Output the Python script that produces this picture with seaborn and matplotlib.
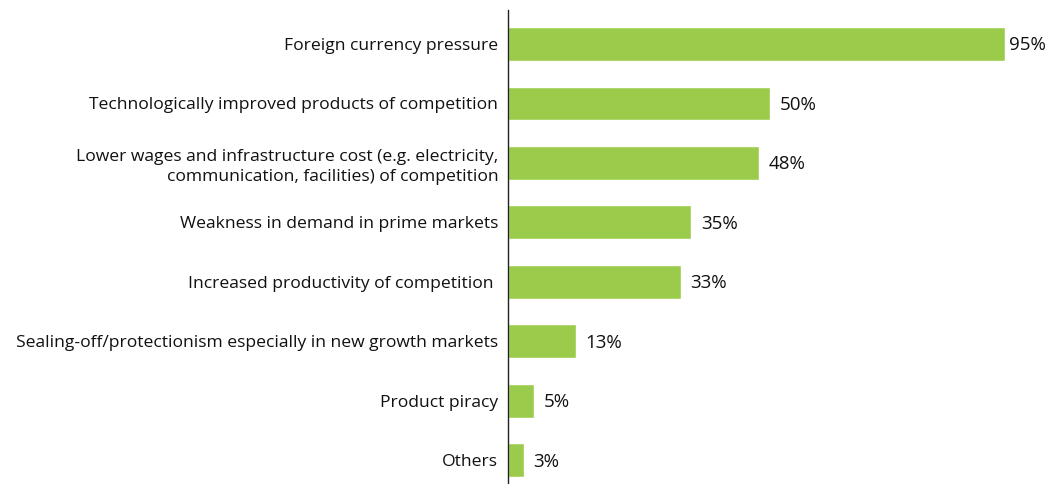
import matplotlib.pyplot as plt
import seaborn as sns
import pandas as pd

# DATA
reasons = [
    "Foreign currency pressure",
    "Technologically improved products of competition",
    "Lower wages and infrastructure cost (e.g. electricity,\ncommunication, facilities) of competition",
    "Weakness in demand in prime markets",
    "Increased productivity of competition ",
    "Sealing-off/protectionism especially in new growth markets",
    "Product piracy",
    "Others",
]
share = [95, 50, 48, 35, 33, 13, 5, 3]

df = pd.DataFrame({"reason": reasons, "share": share})

sns.set_style("white")
plt.rcParams['font.family'] = ['Open Sans', 'DejaVu Sans']

fig = plt.figure(figsize=(10.64, 4.84), dpi=100)
ax = fig.add_axes([508/1064, 0.0, 523.2/1064, 1 - 9.5/484])

sns.barplot(data=df, x="share", y="reason", color="#9BCB4B", width=0.57,
            saturation=1, ax=ax)

ax.set_xlim(0, 100)
ax.set_ylim(7.4, -0.58)
ax.set_xlabel("")
ax.set_ylabel("")
ax.set_xticks([])
sns.despine(ax=ax, top=True, right=True, bottom=True, left=False)
ax.spines['left'].set_color('#222222')
ax.spines['left'].set_linewidth(1.0)
ax.tick_params(axis='y', length=0, pad=7, labelsize=12.6, labelcolor='#111111')
for t in ax.get_yticklabels():
    t.set_linespacing(1.35)

#VALUE LABELS
pads = [3, 7, 7, 7, 7, 7, 7, 7]
for bar, v, p in zip(ax.patches, share, pads):
    ax.annotate(f"{v}%", (bar.get_width(), bar.get_y() + bar.get_height() / 2),
                xytext=(p, -1), textcoords='offset points', va='center',
                ha='left', fontsize=13.5, color='#111111')

fig.savefig("out.png", dpi=100)
